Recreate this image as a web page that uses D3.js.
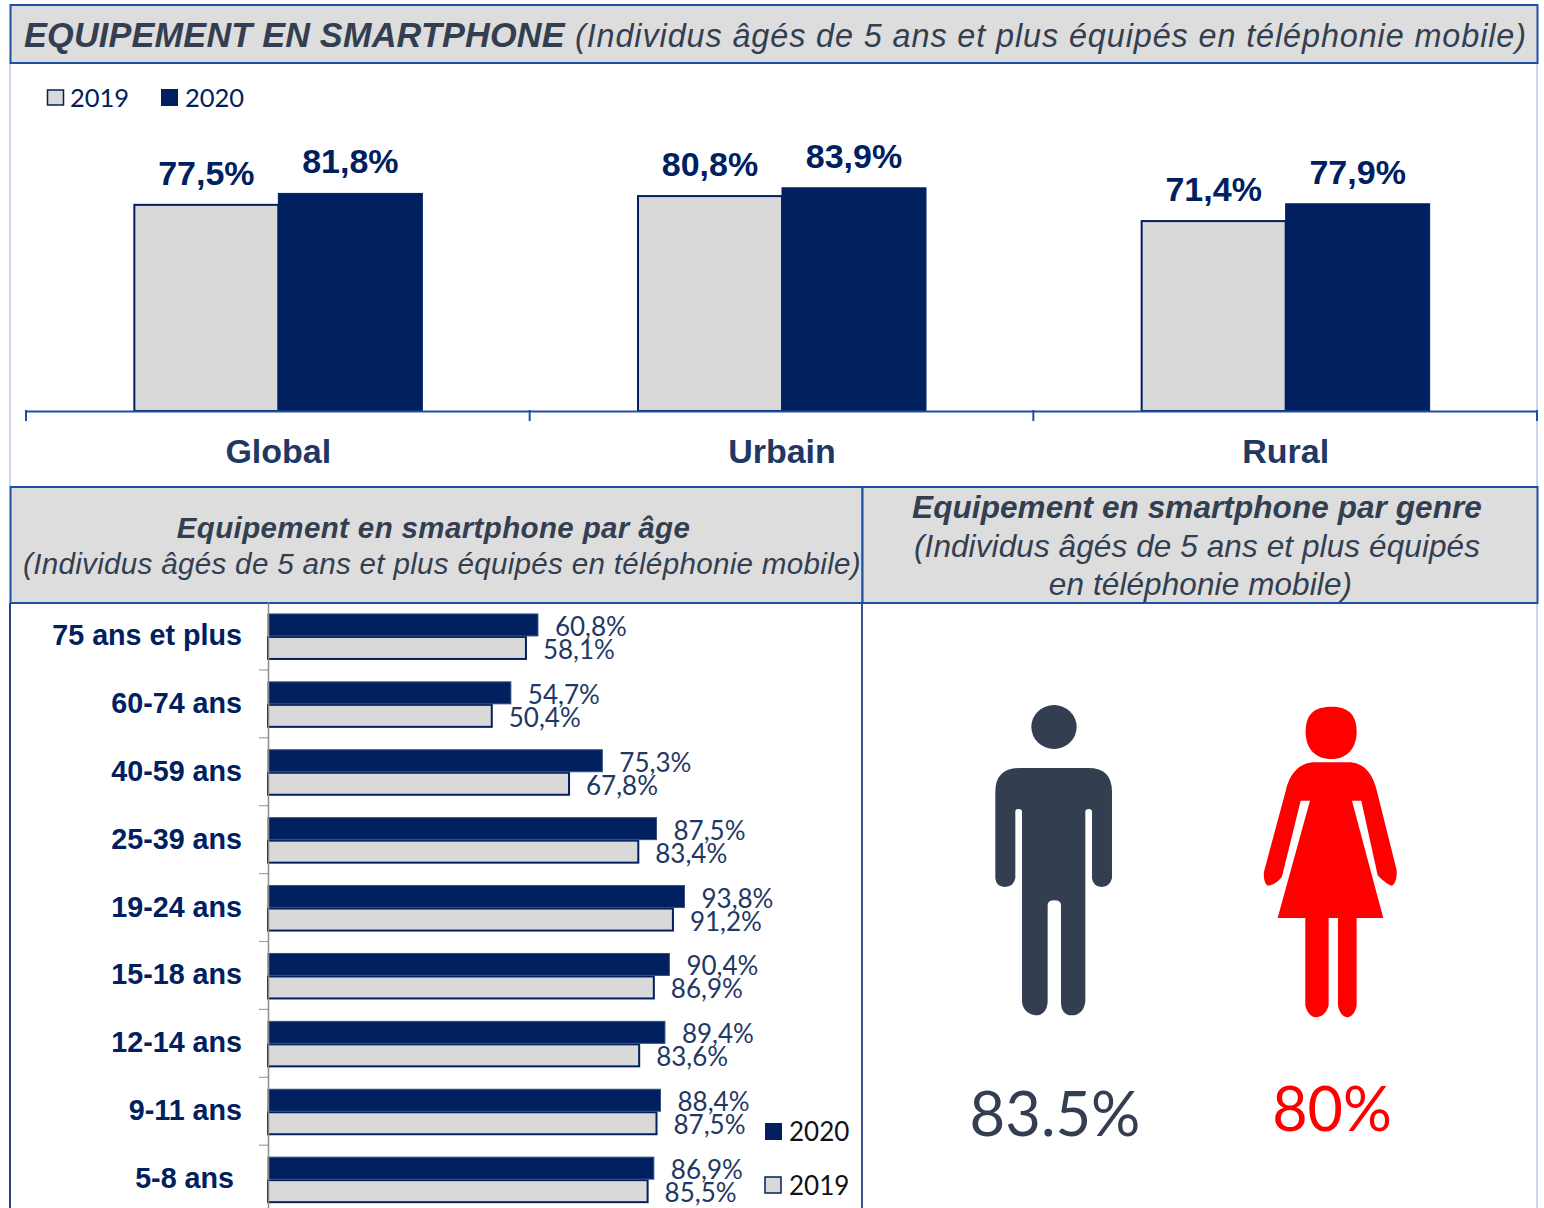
<!DOCTYPE html>
<html><head><meta charset="utf-8">
<script src="https://cdnjs.cloudflare.com/ajax/libs/d3/7.8.5/d3.min.js"></script>
<style>html,body{margin:0;padding:0;background:#fff;overflow:hidden}svg{display:block}text{white-space:pre}</style>
</head><body><svg id="c" width="1544" height="1208"></svg>
<script>
const areas=["Global","Urbain","Rural"];
const area2019=[77.5,80.8,71.4];
const area2020=[81.8,83.9,77.9];
const ages=["75 ans et plus","60-74 ans","40-59 ans","25-39 ans","19-24 ans","15-18 ans","12-14 ans","9-11 ans","5-8 ans"];
const age2019=[58.1,50.4,67.8,83.4,91.2,86.9,83.6,87.5,85.5];
const age2020=[60.8,54.7,75.3,87.5,93.8,90.4,89.4,88.4,86.9];
const genders=["83.5%","80%"];
const NAVY="#00205f",GREY="#d9d9d9",SLATE="#333f50",HEAD="#dddddd",EDGE="#1f4ea3",LIGHT="#a9bbdd";
const ARIAL="'Liberation Sans',Arial,sans-serif",CAL="Lato,Carlito,sans-serif";
const fr=v=>v.toFixed(1).replace(".",",")+"%";
const svg=d3.select("#c");

// frames
[[10,63,10,487],[1537,63,1537,1208]].forEach(l=>svg.append("line").attr("x1",l[0]).attr("y1",l[1]).attr("x2",l[2]).attr("y2",l[3]).attr("stroke",LIGHT).attr("stroke-width",1.2));
svg.append("line").attr("x1",10).attr("y1",603).attr("x2",10).attr("y2",1208).attr("stroke","#12306f").attr("stroke-width",1.8);
svg.append("line").attr("x1",862).attr("y1",603).attr("x2",862).attr("y2",1208).attr("stroke","#24407f").attr("stroke-width",1.8);
[[10.5,5,1527,58],[10.5,487,852,116],[862.5,487,675,116]].forEach(r=>svg.append("rect").attr("x",r[0]).attr("y",r[1]).attr("width",r[2]).attr("height",r[3]).attr("fill",HEAD).attr("stroke",EDGE).attr("stroke-width",2));

function txt(x,y,s,o={}){return svg.append("text").attr("x",x).attr("y",y).attr("text-anchor",o.a||"start")
 .attr("font-family",o.f||ARIAL).attr("font-size",o.s||20).attr("font-weight",o.w||"normal").attr("font-style",o.i?"italic":"normal").attr("letter-spacing",o.ls||0).attr("fill",o.c||SLATE).text(s);}

// title
txt(24,47,"EQUIPEMENT EN SMARTPHONE",{s:34.3,w:"bold",i:1,ls:0.17});
txt(575,47,"(Individus âgés de 5 ans et plus équipés en téléphonie mobile)",{s:32.4,i:1,ls:0.89});

// top legend
svg.append("rect").attr("x",47.5).attr("y",90).attr("width",16).attr("height",15).attr("fill",GREY).attr("stroke",NAVY).attr("stroke-width",1.5);
txt(70,107,"2019",{f:CAL,s:25.5,c:NAVY});
svg.append("rect").attr("x",161).attr("y",89).attr("width",17).attr("height",17).attr("fill",NAVY);
txt(185,107,"2020",{f:CAL,s:25.5,c:NAVY});

// top chart
const x0=d3.scaleBand().domain(areas).range([26.5,1537.5]);
const yT=d3.scaleLinear().domain([0,100]).range([411,145]);
const bw=144;
const gT=svg.append("g");
areas.forEach((a,i)=>{
 const cx=x0(a)+x0.bandwidth()/2;
 gT.append("rect").attr("x",cx-bw).attr("y",yT(area2019[i])).attr("width",bw).attr("height",yT(0)-yT(area2019[i])).attr("fill",GREY).attr("stroke",NAVY).attr("stroke-width",2);
 gT.append("rect").attr("x",cx).attr("y",yT(area2020[i])).attr("width",bw).attr("height",yT(0)-yT(area2020[i])).attr("fill",NAVY).attr("stroke",NAVY).attr("stroke-width",1);
 txt(cx-72,yT(area2019[i])-20,fr(area2019[i]),{a:"middle",s:34,w:"bold",c:NAVY});
 txt(cx+72,yT(area2020[i])-20,fr(area2020[i]),{a:"middle",s:34,w:"bold",c:NAVY});
 txt(cx,463,a,{a:"middle",s:34,w:"bold",c:"#1f3864"});
});
const axT=svg.append("g").attr("transform","translate(0,411)").call(d3.axisBottom(x0).tickSize(0).tickFormat(""));
axT.select(".domain").attr("stroke",EDGE).attr("stroke-width",2);
[0,1,2,3].forEach(i=>{const x=26+i*x0.bandwidth();svg.append("line").attr("x1",x).attr("x2",x).attr("y1",410).attr("y2",421).attr("stroke",EDGE).attr("stroke-width",2);});

// panel headers
txt(433.5,538,"Equipement en smartphone par âge",{a:"middle",s:29.5,w:"bold",i:1,ls:0.37});
txt(442,574,"(Individus âgés de 5 ans et plus équipés en téléphonie mobile)",{a:"middle",s:29.6,i:1,ls:0.3});
txt(1197,518,"Equipement en smartphone par genre",{a:"middle",s:31.5,w:"bold",i:1,ls:0.08});
txt(1197,557,"(Individus âgés de 5 ans et plus équipés",{a:"middle",s:31.5,i:1,ls:0.1});
txt(1200.5,595,"en téléphonie mobile)",{a:"middle",s:31.5,i:1,ls:0.1});

// age chart
const yA=d3.scaleBand().domain(ages).range([602,602+67.9*9]);
const xA=d3.scaleLinear().domain([0,100]).range([268,712]);
const bh=22;
const gA=svg.append("g");
ages.forEach((a,i)=>{
 const cy=yA(a)+yA.bandwidth()/2;
 gA.append("rect").attr("x",xA(0)).attr("y",cy+1).attr("width",xA(age2019[i])-xA(0)).attr("height",bh).attr("fill",GREY).attr("stroke",NAVY).attr("stroke-width",2);
 gA.append("rect").attr("x",xA(0)).attr("y",cy-bh).attr("width",xA(age2020[i])-xA(0)).attr("height",bh).attr("fill",NAVY).attr("stroke","#34507f").attr("stroke-width",1);
 txt(xA(age2020[i])+17,cy,fr(age2020[i]),{f:CAL,s:26,c:"#1f3864"});
 txt(xA(age2019[i])+17,cy+23,fr(age2019[i]),{f:CAL,s:26,c:"#1f3864"});
 txt(i===8?234:242,cy+9,a,{a:"end",s:28.7,w:"bold",c:NAVY});
});
const axA=svg.append("g").attr("transform","translate(268,0)").call(d3.axisLeft(yA).tickSize(0).tickFormat(""));
axA.select(".domain").attr("stroke","#8c8c8c").attr("stroke-width",1.5);
ages.slice(1).forEach(a=>svg.append("line").attr("x1",259).attr("x2",268).attr("y1",yA(a)).attr("y2",yA(a)).attr("stroke","#a0a0a0").attr("stroke-width",1.2));

// age legend
svg.append("rect").attr("x",765).attr("y",1123).attr("width",17).attr("height",17).attr("fill",NAVY);
txt(789,1141,"2020",{f:CAL,s:26,c:"#111"});
svg.append("rect").attr("x",765).attr("y",1177).attr("width",16).attr("height",16).attr("fill",GREY).attr("stroke",NAVY).attr("stroke-width",1.5);
txt(789,1195,"2019",{f:CAL,s:26,c:"#111"});

// pictograms
const icons=svg.append("g").attr("transform","translate(960,690) scale(0.3333)");
icons.append("ellipse").attr("cx",282).attr("cy",111).attr("rx",68).attr("ry",66).attr("fill",SLATE);
icons.append("path").attr("fill",SLATE).attr("d","M180,234 H385 Q456,234 456,305 V565 Q450,590 425,591 Q400,590 396,565 V365 Q396,357 386,357 Q376,357 376,365 V935 Q370,975 335,976 Q303,975 303,935 V645 Q303,631 283,631 Q263,631 263,645 V935 Q260,975 227,976 Q190,970 186,935 V365 Q186,357 176,357 Q166,357 166,365 V565 Q160,591 135,591 Q108,590 106,565 V305 Q106,234 180,234 Z");
icons.append("path").attr("fill","#ff0000").attr("d","M1115,50 C1170,50 1190,80 1190,125 C1190,175 1160,207 1115,207 C1065,207 1037,175 1037,125 C1037,75 1060,50 1115,50 Z");
icons.append("path").attr("fill","#ff0000").attr("d","M1065,217 H1165 C1210,217 1238,250 1250,300 L1310,540 C1312,565 1305,585 1295,587 C1285,585 1260,565 1253,555 L1204,332 H1176 L1270,684 H1190 V945 C1188,965 1175,982 1162,982 C1150,982 1136,965 1134,945 V684 H1106 V945 C1100,970 1085,982 1065,982 C1050,980 1038,960 1036,945 V684 H953 L1050,332 H1022 L966,560 C955,575 940,585 925,587 C915,585 910,565 912,545 L978,300 C990,250 1020,217 1065,217 Z");
txt(1055,1136,genders[0],{a:"middle",f:CAL,s:61.5,c:SLATE});
txt(1332,1131,genders[1],{a:"middle",f:CAL,s:61,c:"#ff0000"});
</script></body></html>
